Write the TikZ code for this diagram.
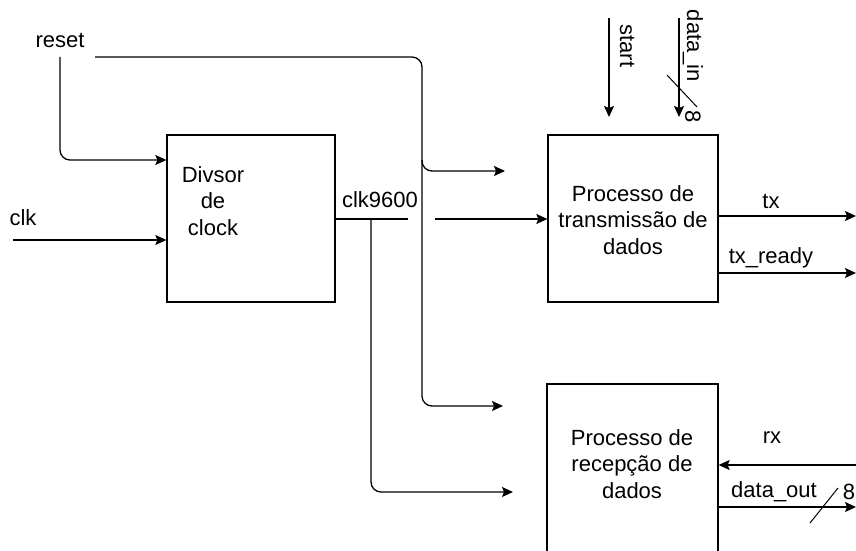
\documentclass[tikz,border=0pt]{standalone}
\usepackage{fontspec}
\setmainfont{Liberation Sans}
\usetikzlibrary{arrows.meta}
\begin{document}
\begin{tikzpicture}[x=1pt,y=-1pt,
  every node/.style={font=\fontsize{22}{26.5}\selectfont, inner sep=0pt},
  wire/.style={line width=1.3pt, rounded corners=10pt},
  arr/.style={wire, -{Stealth[length=11pt,width=10pt,inset=2pt]}},
  block/.style={draw, line width=1.3pt},
  slash/.style={line width=1pt}]
\useasboundingbox (0,0) rectangle (856,551);
\clip (0,0) rectangle (856,551);
\fill[white] (0,0) rectangle (856,551);

% blocks
\node[minimum width=168pt, minimum height=167pt, block] (div) at (251,218.5) {};
\node[minimum width=170pt, minimum height=167pt, block] (txb) at (633,218.5) {};
\node[minimum width=171pt, minimum height=190pt, block] (rxb) at (632.5,479) {};

% block texts
\node[align=center] (divt) at (213,201) {Divsor\\de\\clock};
\node[align=center] (txt) at (633,220) {Processo de\\transmiss\~ao de\\dados};
\node[align=center] (rxt) at (632,464) {Processo de\\recep\c{c}\~ao de\\dados};

% labels
\node (reset) at (60,40) {reset};
\node (clk) at (23,218) {clk};
\node (clk9600) at (380,200) {clk9600};
\node[rotate=-90] (start) at (627,46) {start};
\node[rotate=-90] (datain) at (693,46) {data\_in};
\node[rotate=-90] (eight1) at (693,117) {8};
\node (tx) at (771,201) {tx};
\node (txready) at (771,258) {tx\_ready};
\node (rx) at (772,438) {rx};
\node (dataout) at (774,492) {data\_out};
\node (eight2) at (849,492) {8};

% free end coordinates
\coordinate (r0) at (60,57);
\coordinate (r1) at (95,57);
\coordinate (c0) at (13,240);
\coordinate (s0) at (609,18);
\coordinate (d0) at (679,18);
\coordinate (txo) at (856,216);
\coordinate (tro) at (856,273);
\coordinate (rxi) at (856,465);
\coordinate (dao) at (856,507);
\coordinate (a1) at (505,171);
\coordinate (a2) at (503,406);
\coordinate (a3) at (513,492);

% reset
\draw[arr] (r0) -- (60,160) -- (div.west |- 0,160);
\draw[arr] (r1) -- (422,57) -- (422,171) -- (a1);
\draw[arr] (422,160) -- (422,406) -- (a2);
% clk
\draw[arr] (c0) -- (div.west |- c0);
% clk9600
\draw[wire] (div.east |- 0,219) -- (408,219);
\draw[arr] (435,219) -- (txb.west |- 0,219);
\draw[arr] (371,219) -- (371,492) -- (a3);
% start / data_in
\draw[arr] (s0) -- (609,117);
\draw[arr] (d0) -- (679,117);
\draw[slash] (667,75) -- (697,107);
% tx outputs
\draw[arr] (txb.east |- txo) -- (txo);
\draw[arr] (txb.east |- tro) -- (tro);
% rx
\draw[arr] (rxi) -- (rxb.east |- rxi);
\draw[arr] (rxb.east |- dao) -- (dao);
\draw[slash] (810,523) -- (838,488);
\end{tikzpicture}
\end{document}
